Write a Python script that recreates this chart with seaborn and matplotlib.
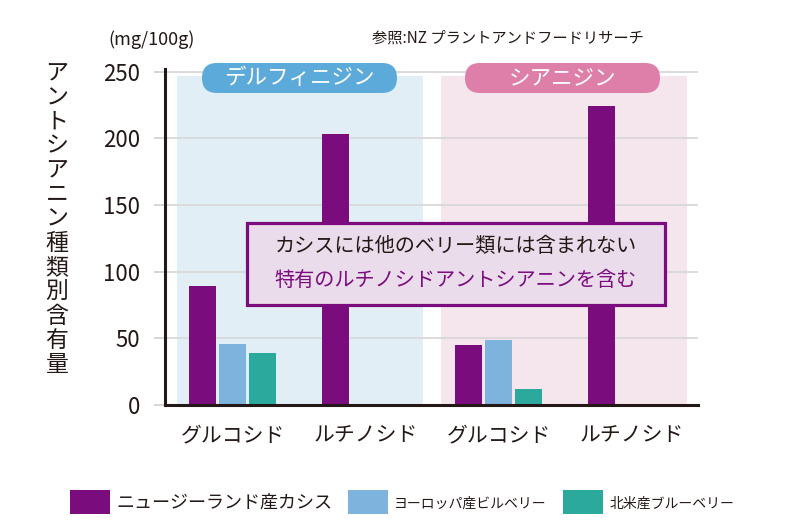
import matplotlib
matplotlib.use("Agg")
import matplotlib.pyplot as plt
import seaborn as sns
import pandas as pd
import numpy as np
from matplotlib.patches import Patch, FancyBboxPatch, Rectangle
from matplotlib.transforms import IdentityTransform

# ---- data ----
groups = ["g1", "g2", "g3", "g4"]
group_labels = ["グルコシド", "ルチノシド", "グルコシド", "ルチノシド"]
series = ["ニュージーランド産カシス", "ヨーロッパ産ビルベリー", "北米産ブルーベリー"]
cassis = [89, 203, 45, 224]
bilberry = [46, np.nan, 49, np.nan]
blueberry = [39, np.nan, 12, np.nan]
yticks = [0, 50, 100, 150, 200, 250]
colors = ["#7B0C7E", "#7DB3DC", "#2BA99D"]

rows = []
for vals, s in zip([cassis, bilberry, blueberry], series):
    for g, v in zip(groups, vals):
        rows.append({"group": g, "series": s, "value": v})
df = pd.DataFrame(rows)

sns.set_theme(style="white")
plt.rcParams["font.family"] = ["Noto Sans CJK JP", "DejaVu Sans"]
txt = "#231815"

fig = plt.figure(figsize=(8, 5.28), dpi=100)
ax = fig.add_axes([165 / 800, 1 - 405 / 528, (698 - 165) / 800, (405 - 69) / 528])

sns.barplot(data=df, x="group", y="value", hue="series", order=groups,
            hue_order=series, palette=colors, saturation=1, width=0.68, gap=0.1,
            errorbar=None, legend=False, ax=ax, zorder=3, linewidth=0)

ax.set_xlim(-0.51, 3.5)
ax.set_ylim(0, 252)

# background shading
ax.add_patch(Rectangle((-0.42, 0), 1.85, 247, facecolor="#E2EEF6", edgecolor="none", zorder=0))
ax.add_patch(Rectangle((1.57, 0), 1.85, 247, facecolor="#F5E6EE", edgecolor="none", zorder=0))

ax.set_yticks(yticks)
ax.set_yticklabels([str(t) for t in yticks], fontsize=16, color=txt)
ax.yaxis.grid(True, color="#D6D6D6", linewidth=1.2, zorder=1)
ax.set_axisbelow(False)
for gl in ax.get_ygridlines():
    gl.set_zorder(1)
ax.tick_params(axis="y", length=8, width=1.2, color="#D0D0D0", pad=10, left=True)
ax.set_xticks(range(4))
ax.set_xticklabels(group_labels, fontsize=15, color=txt)
ax.tick_params(axis="x", length=0, pad=14)
ax.set_xlabel("")
ax.set_ylabel("")
for s in ["top", "right"]:
    ax.spines[s].set_visible(False)
for s in ["left", "bottom"]:
    ax.spines[s].set_color(txt)
    ax.spines[s].set_linewidth(2.2)
    ax.spines[s].set_zorder(4)

# vertical y label
ylab = "アントシアニン種類別含有量"
fig.text(57 / 800, 1 - 219 / 528, "\n".join(ylab), fontsize=16.5, color=txt,
         ha="center", va="center", linespacing=1.07)

fig.text(108 / 800, 1 - 40 / 528, "(mg/100g)", fontsize=13, color=txt, ha="left", va="center")
fig.text(372 / 800, 1 - 38 / 528, "参照:NZ プラントアンドフードリサーチ", fontsize=11, color=txt,
         ha="left", va="center")

# pill labels
for (x0, x1, col, label) in [(202, 397, "#5BAAD9", "デルフィニジン"), (465, 660, "#DE7FA9", "シアニジン")]:
    p = FancyBboxPatch((x0 + 15, 528 - 78), (x1 - x0) - 30, 0.01,
                       boxstyle="round,pad=15,rounding_size=15",
                       transform=IdentityTransform(), facecolor=col, edgecolor="none", zorder=5)
    fig.patches.append(p)
    fig.text((x0 + x1) / 2 / 800, 1 - 78 / 528, label, fontsize=15.5, color="white",
             ha="center", va="center", zorder=7)

# annotation box
box = Rectangle((247, 528 - 305), 418, 82, transform=IdentityTransform(),
                facecolor="#EADCEB", edgecolor="#7B0C7E", linewidth=2.3, zorder=5)
fig.patches.append(box)
fig.text(456 / 800, 1 - 247 / 528, "カシスには他のベリー類には含まれない", fontsize=14.5, color=txt,
         ha="center", va="center", zorder=7)
fig.text(456 / 800, 1 - 280 / 528, "特有のルチノシドアントシアニンを含む", fontsize=14.5, color="#7B0C7E",
         ha="center", va="center", zorder=7)

# legend
handles = [Patch(facecolor=c, edgecolor="none") for c in colors]
leg = fig.legend(handles, series, loc="center", bbox_to_anchor=(402 / 800, 1 - 502 / 528),
                 ncol=3, frameon=False, fontsize=13, handlelength=2.2, handleheight=1.6,
                 handletextpad=0.35, columnspacing=0.9)
for i, t in enumerate(leg.get_texts()):
    t.set_color(txt)
    if i > 0:
        t.set_fontsize(10)

fig.savefig("out.png", dpi=100)
